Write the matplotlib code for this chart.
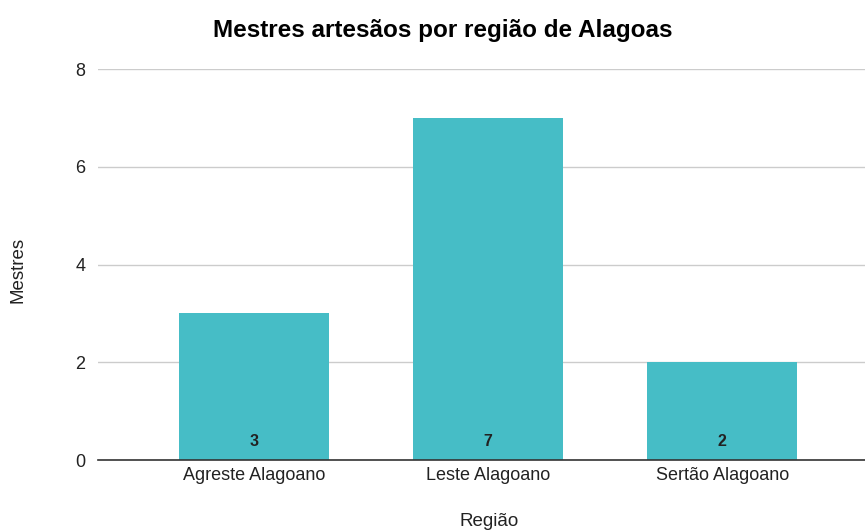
import matplotlib
matplotlib.use("Agg")
import matplotlib.pyplot as plt

plt.rcParams['font.family'] = ['Liberation Sans', 'DejaVu Sans']

regioes = ["Agreste Alagoano", "Leste Alagoano", "Sertão Alagoano"]
mestres = [3, 7, 2]
yticks = [0, 2, 4, 6, 8]

cor = "#46BDC6"

fig = plt.figure(figsize=(8.65, 5.32), dpi=100)
ax = fig.add_axes([0.1133, 0.1353, 0.8867, 0.735])

x = list(range(len(regioes)))
bars = ax.bar(x, mestres, width=0.64, color=cor, zorder=2)

# rótulos de valor na base das barras
for xi, v in zip(x, mestres):
    ax.text(xi, 0.22, str(v), ha='center', va='bottom', fontsize=11.5,
            fontweight='bold', color='#222222', zorder=3)

ax.set_xlim(-0.667, 2.61)
ax.set_ylim(0, 8)
ax.set_yticks(yticks)
ax.set_xticks(x)
ax.set_xticklabels(regioes)
ax.grid(axis='y', color='#cccccc', linewidth=1, zorder=0)
for s in ['top', 'right', 'left']:
    ax.spines[s].set_visible(False)
ax.spines['bottom'].set_color('#333333')
ax.spines['bottom'].set_linewidth(1.2)
ax.spines['bottom'].set_zorder(4)
ax.tick_params(axis='both', length=0, labelsize=13, colors='#222222')
ax.tick_params(axis='x', pad=5)
ax.tick_params(axis='y', pad=9)

fig.text(0.512, 0.942, "Mestres artesãos por região de Alagoas", ha='center',
         va='center', fontsize=17.5, fontweight='bold', color='#000000')
fig.text(0.021, 0.492, "Mestres", rotation=90, ha='center', va='center',
         fontsize=13.5, color='#222222')
fig.text(0.565, 0.019, "Região", ha='center', va='center', fontsize=13.5,
         color='#222222')

fig.savefig("out.png", dpi=100)
